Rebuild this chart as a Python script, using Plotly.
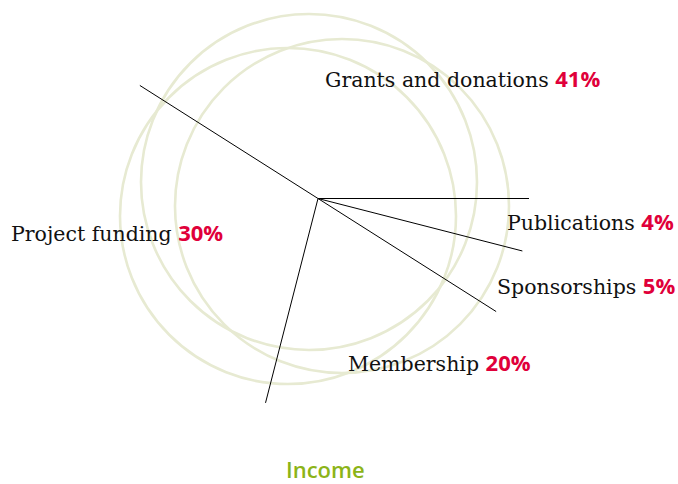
import math
import plotly.graph_objects as go

# Data (clockwise from east)
categories = ["Publications", "Sponsorships", "Membership", "Project funding", "Grants and donations"]
shares = [4, 5, 20, 30, 41]
title_text = "Income"

W, H = 678, 484
CX, CY, R = 318, 198.5, 211
RED = "rgb(224,0,58)"
GREEN = "rgb(140,180,24)"
RING = "rgb(231,234,210)"

fig = go.Figure()

# decorative rings
rings = [(309, 182, 168), (342, 206, 167), (288, 216, 168)]
shapes = []
for (x, y, r) in rings:
    shapes.append(dict(type="circle", xref="x", yref="y", x0=x - r, x1=x + r, y0=y - r, y1=y + r,
                       line=dict(color=RING, width=2.6), layer="below"))

# radial boundary lines from cumulative shares
total = sum(shares)
cum = 0
for v in shares:
    ang = 2 * math.pi * cum / total
    fig.add_trace(go.Scatter(x=[CX, CX + R * math.cos(ang)], y=[CY, CY + R * math.sin(ang)],
                             mode="lines", line=dict(color="black", width=1), hoverinfo="skip",
                             showlegend=False))
    cum += v

# label placement (style only)
label_pos = {
    "Grants and donations": (462.5, 77.5, "center"),
    "Project funding": (9, 231.5, "left"),
    "Publications": (676, 220.5, "right"),
    "Sponsorships": (677, 284.5, "right"),
    "Membership": (439.5, 361.5, "center"),
}
annotations = []
for name, v in zip(categories, shares):
    x, y, anc = label_pos[name]
    txt = (f"{name} <span style='font-family:\"Open Sans\";font-weight:bold;color:{RED};font-size:22px'>{v}%</span>")
    annotations.append(dict(x=x, y=y, xref="x", yref="y", text=txt, showarrow=False,
                            xanchor=anc, yanchor="middle",
                            font=dict(family="DejaVu Serif", size=20.5, color="#111")))
annotations.append(dict(x=325, y=469, xref="x", yref="y", text=title_text, showarrow=False,
                        xanchor="center", yanchor="middle",
                        font=dict(family="Open Sans", size=22, color=GREEN, weight=600)))

fig.update_layout(
    width=W, height=H, autosize=False,
    margin=dict(l=0, r=0, t=0, b=0),
    paper_bgcolor="white", plot_bgcolor="white",
    xaxis=dict(range=[0, W], visible=False, fixedrange=True),
    yaxis=dict(range=[H, 0], visible=False, fixedrange=True),
    shapes=shapes, annotations=annotations, showlegend=False,
)
fig.write_html("out.html", config={"displayModeBar": False},
               post_script="document.body.style.margin='0';document.body.style.overflow='hidden';")
